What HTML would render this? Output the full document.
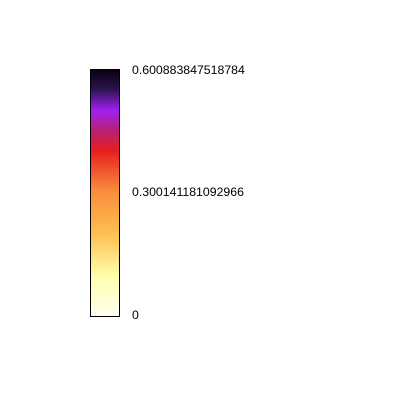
<!DOCTYPE html>
<html><head><style>
body{margin:0;background:#fff;width:400px;height:400px;overflow:hidden;font-family:"Liberation Sans",sans-serif}
</style></head><body>
<svg width="400" height="400">
<defs><linearGradient id="g" x1="0" y1="0" x2="0" y2="1">
<stop offset="0" stop-color="#0a0010"/>
<stop offset="0.08" stop-color="#2c1450"/>
<stop offset="0.166" stop-color="#a020f0"/>
<stop offset="0.25" stop-color="#b82070"/>
<stop offset="0.328" stop-color="#e61e1e"/>
<stop offset="0.49" stop-color="#fa8c3c"/>
<stop offset="0.664" stop-color="#fcc050"/>
<stop offset="0.842" stop-color="#ffffb0"/>
<stop offset="1" stop-color="#fffff2"/>
</linearGradient></defs>
<rect x="90.5" y="69.5" width="29" height="247" fill="url(#g)" stroke="#000" stroke-width="1"/>
<g font-size="12.3" fill="#000">
<text x="132" y="74">0.600883847518784</text>
<text x="132" y="196">0.300141181092966</text>
<text x="132" y="319">0</text>
</g>
</svg>
</body></html>
